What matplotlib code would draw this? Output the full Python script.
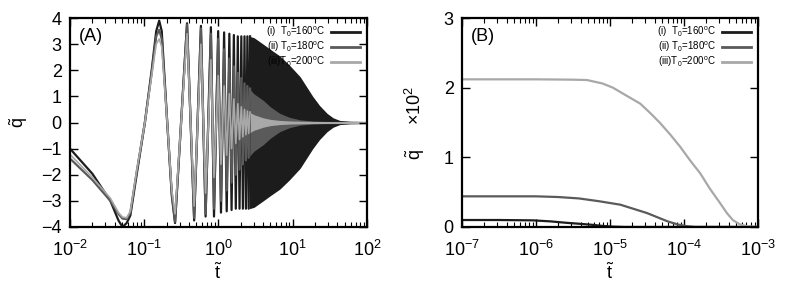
import numpy as np
import matplotlib
matplotlib.use("Agg")
import matplotlib.pyplot as plt

plt.rcParams['font.family'] = ['Liberation Sans', 'DejaVu Sans']
plt.rcParams['mathtext.default'] = 'regular'

# ---------------- panel (A) data ----------------
labels = ['(i)  T$_0$=160$^o$C', '(ii) T$_0$=180$^o$C', '(iii)T$_0$=200$^o$C']
colors = ['#1c1c1c', '#5a5a5a', '#a8a8a8']

# early wide wave (shared times)
t_early = [0.01, 0.02, 0.035, 0.045, 0.051, 0.058, 0.065, 0.079, 0.102, 0.126, 0.145, 0.159, 0.172, 0.204, 0.235]
q_early_1 = [-1.0, -1.96, -3.0, -3.75, -4.0, -3.85, -3.56, -2.0, 0.0, 2.0, 3.5, 3.9, 3.5, 0.0, -2.8]
q_early_2 = [-1.38, -2.2, -3.0, -3.5, -3.68, -3.7, -3.45, -1.9, 0.0, 1.9, 3.3, 3.55, 3.2, 0.0, -2.7]
q_early_3 = [-1.22, -2.1, -2.9, -3.45, -3.62, -3.65, -3.4, -1.85, 0.0, 1.8, 3.0, 3.2, 2.9, 0.0, -2.6]

# extrema of the faster oscillations (first one is a minimum)
t_peaks = [0.26, 0.377, 0.47, 0.58, 0.67, 0.79, 0.87, 0.99, 1.08, 1.19, 1.29, 1.40,
           1.50, 1.61, 1.71, 1.82, 1.92, 2.03, 2.13, 2.24, 2.34, 2.45, 2.55, 2.66]
amp_1 = [3.85, 3.8, 3.75, 3.7, 3.6, 3.65, 3.6, 3.5, 3.45, 3.45, 3.4, 3.4,
         3.35, 3.35, 3.3, 3.3, 3.3, 3.3, 3.3, 3.3, 3.3, 3.3, 3.3, 3.3]
amp_2 = [3.8, 3.75, 3.65, 3.6, 3.5, 3.4, 3.3, 3.2, 3.0, 2.8, 2.6, 2.45,
         2.3, 2.15, 2.0, 1.9, 1.8, 1.7, 1.6, 1.5, 1.45, 1.4, 1.35, 1.3]
amp_3 = [3.5, 3.4, 3.2, 3.0, 2.7, 2.4, 2.1, 1.8, 1.6, 1.4, 1.25, 1.1,
         1.0, 0.9, 0.8, 0.72, 0.65, 0.6, 0.55, 0.5, 0.47, 0.44, 0.42, 0.4]

# envelopes of the unresolved (dense) oscillations
t_env = [2.6, 3.0, 4.0, 5.0, 6.7, 9.0, 12.6, 18.6, 23, 29, 35, 43, 60, 100]
env_1 = [3.3, 3.25, 3.0, 2.8, 2.55, 2.2, 1.75, 1.0, 0.65, 0.35, 0.18, 0.08, 0.05, 0.04]
env_2 = [1.3, 1.1, 0.85, 0.6, 0.35, 0.2, 0.1, 0.06, 0.05, 0.04, 0.04, 0.04, 0.04, 0.04]
env_3 = [0.4, 0.3, 0.18, 0.12, 0.08, 0.06, 0.05, 0.04, 0.04, 0.04, 0.04, 0.04, 0.04, 0.04]

# ---------------- panel (B) data (log10 of t) ----------------
lt_1 = [-7, -6.5, -6.04, -5.8, -5.59, -5.4, -5.23, -5.1, -4.96, -4.8, -3]
qb_1 = [0.10, 0.10, 0.095, 0.08, 0.06, 0.045, 0.03, 0.015, 0.005, 0.0, 0.0]
lt_2 = [-7, -6, -5.7, -5.42, -5.15, -4.86, -4.68, -4.5, -4.36, -4.22, -4.08, -3.95, -3.85, -3]
qb_2 = [0.44, 0.44, 0.43, 0.41, 0.37, 0.32, 0.26, 0.2, 0.14, 0.08, 0.035, 0.01, 0.0, 0.0]
lt_3 = [-7, -6, -5.5, -5.31, -5.1, -4.96, -4.8, -4.59, -4.45, -4.32, -4.18, -4.05,
        -3.92, -3.78, -3.65, -3.51, -3.42, -3.34, -3.25, -3.15, -3]
qb_3 = [2.12, 2.12, 2.115, 2.11, 2.06, 2.0, 1.9, 1.77, 1.63, 1.49, 1.32, 1.15,
        0.96, 0.77, 0.55, 0.34, 0.2, 0.10, 0.04, 0.01, 0.0]

fig = plt.figure(figsize=(7.97, 2.91), dpi=100)
axA = fig.add_axes([0.0878, 0.22, 0.3727, 0.718])
axB = fig.add_axes([0.5797, 0.22, 0.3713, 0.718])

sign = np.array([(-1) ** (k + 1) for k in range(len(t_peaks))])
early = [q_early_1, q_early_2, q_early_3]
amps = [amp_1, amp_2, amp_3]
envs = [env_1, env_2, env_3]
widths = [1.6, 1.6, 1.2]
for i in range(3):
    t = list(t_early) + list(t_peaks)
    q = list(early[i]) + list(sign * np.array(amps[i]))
    axA.plot(t, q, color=colors[i], lw=widths[i], label=labels[i])
    env = np.array(envs[i])
    axA.fill_between(t_env, -env, env, color=colors[i], lw=0)

axA.set_xscale('log')
axA.set_xlim(1e-2, 1e2)
axA.set_ylim(-4, 4)
axA.set_yticks(range(-4, 5))
axA.set_xlabel(r'$\tilde{t}$', fontsize=13, labelpad=2)
axA.set_ylabel(r'$\tilde{q}$', fontsize=13, labelpad=8)
axA.text(0.03, 0.95, '(A)', transform=axA.transAxes, fontsize=13, va='top')

for lt, qb, c, lab in zip([lt_1, lt_2, lt_3], [qb_1, qb_2, qb_3], colors, labels):
    axB.plot(10.0 ** np.array(lt), qb, color=c, lw=1.6, label=lab)
axB.set_xscale('log')
axB.set_xlim(1e-7, 1e-3)
axB.set_ylim(0, 3)
axB.set_yticks([0, 1, 2, 3])
axB.set_xlabel(r'$\tilde{t}$', fontsize=13, labelpad=2)
axB.set_ylabel(r'$\tilde{q}$     $\times10^2$', fontsize=13, labelpad=12)
axB.text(0.03, 0.95, '(B)', transform=axB.transAxes, fontsize=13, va='top')

for ax in (axA, axB):
    ax.tick_params(which='both', direction='in', top=True, right=True, labelsize=13)
    ax.tick_params(axis='x', which='major', pad=9)
    ax.tick_params(axis='y', which='major', pad=6)
    ax.tick_params(which='major', length=6, width=1)
    ax.tick_params(which='minor', length=3.5, width=0.8)
    for s in ax.spines.values():
        s.set_linewidth(1.6)
    leg = ax.legend(loc='upper right', frameon=False, markerfirst=False, fontsize=7,
                    handlelength=3.0, handletextpad=0.6, labelspacing=0.05,
                    borderaxespad=0.3)
    for h in leg.get_lines():
        h.set_linewidth(2)

fig.savefig('out.png', dpi=100)
